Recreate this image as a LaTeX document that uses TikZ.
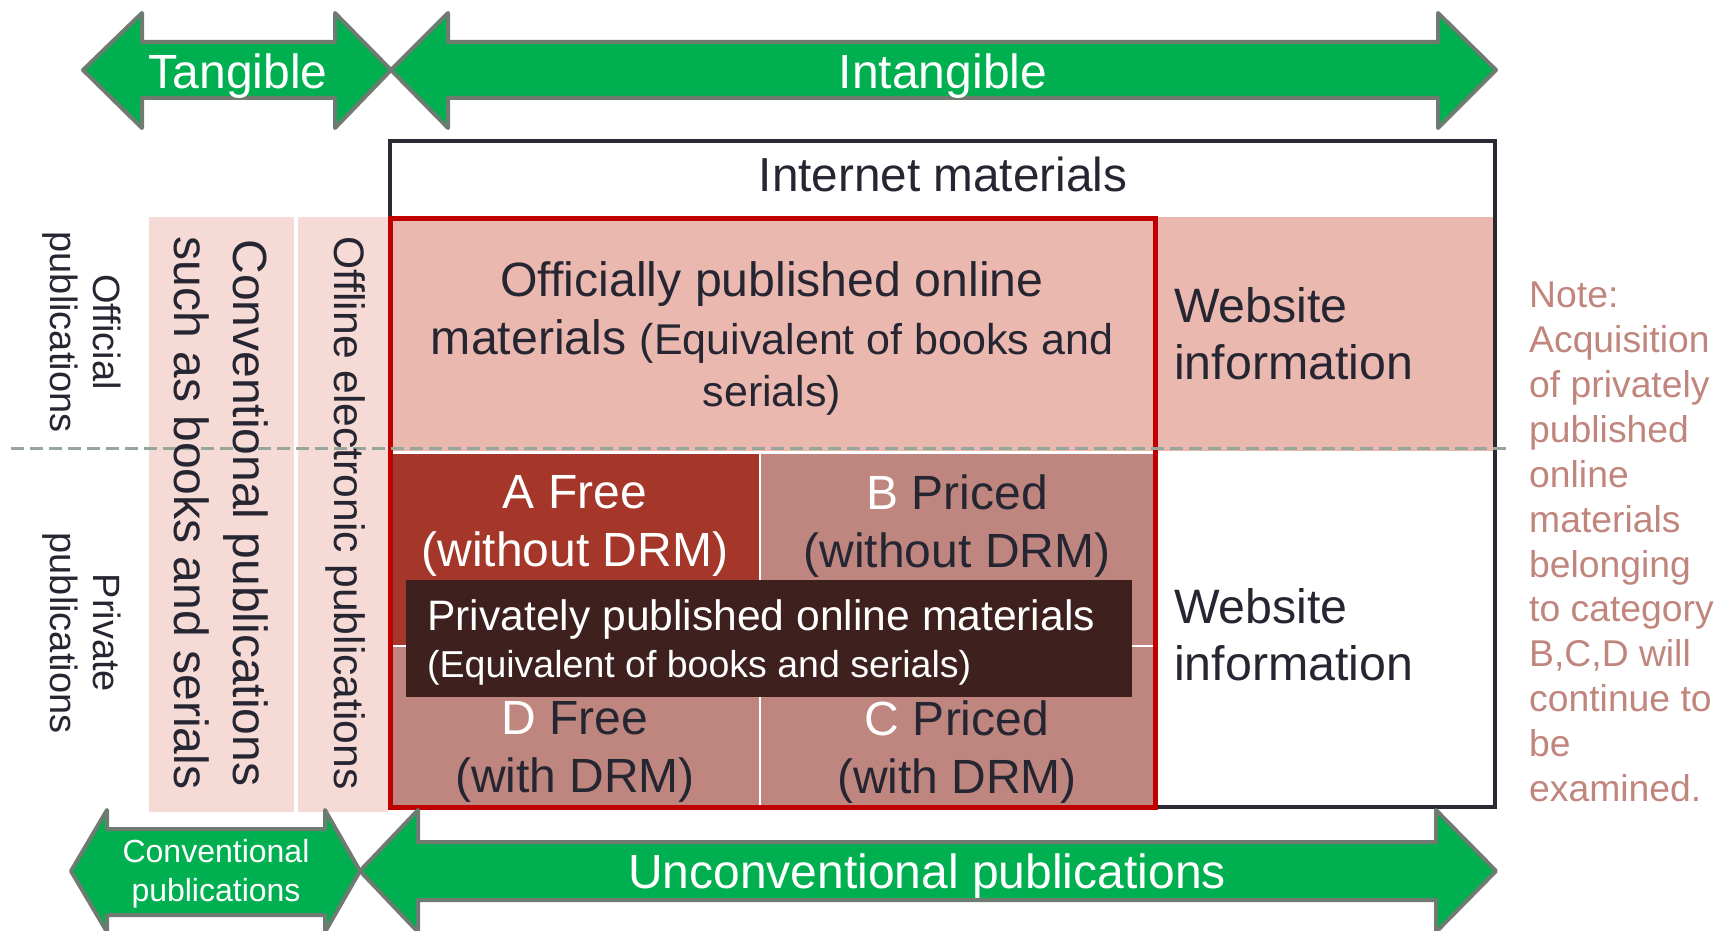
\documentclass[tikz,border=0pt]{standalone}
\usepackage{fontspec}
\setmainfont{Liberation Sans}
\definecolor{grn}{HTML}{00B050}
\definecolor{arrline}{HTML}{6E7B70}
\definecolor{pinkA}{HTML}{EBB8B0}
\definecolor{pinkL}{HTML}{F6DAD5}
\definecolor{cellA}{HTML}{A5372A}
\definecolor{cellB}{HTML}{BE867E}
\definecolor{redbox}{HTML}{C00000}
\definecolor{darkbox}{HTML}{3E211F}
\definecolor{txt}{HTML}{262633}
\definecolor{notec}{HTML}{C0867E}
\definecolor{dashc}{HTML}{97A69A}
\definecolor{boxline}{HTML}{2A2A35}
\newcommand{\myfs}[2]{\fontsize{#1}{#2}\selectfont}
\begin{document}
\begin{tikzpicture}[x=1pt,y=-1pt,
  arrowshape/.style={fill=grn, draw=arrline, line width=4pt, line join=round},
  lbl/.style={text=white, inner sep=0pt},
  dtxt/.style={text=txt, inner sep=0pt, align=center}]
\useasboundingbox (0,0) rectangle (1715,931);

% left strips
\fill[pinkL] (149,217) rectangle (294,812);
\fill[pinkL] (298,217) rectangle (388,812);

% internet materials box
\node[draw=boxline, line width=4.5pt, fill=white, minimum width=1105pt, minimum height=666pt, inner sep=0pt] (inet) at (942.5,474) {};
% official band
\fill[pinkA] (390,217) rectangle (1493,451);
% cells
\fill[cellA] (390,454) rectangle (759,645);
\fill[cellB] (761,454) rectangle (1155,645);
\fill[cellB] (390,647) rectangle (759,809);
\fill[cellB] (761,647) rectangle (1155,809);
% red box
\draw[redbox, line width=5pt] (390,218) rectangle (1155,807);
% dashed line
\draw[dashc, line width=3pt, dash pattern=on 13pt off 6pt] (11,448) -- (1509,448);
% overlay
\fill[darkbox] (406,580) rectangle (1132,697);

% top arrows
\draw[arrowshape] (83,70) -- (142,13) -- (142,42) -- (335,42) -- (335,13) -- (391,70) -- (335,128) -- (335,98) -- (142,98) -- (142,128) -- cycle;
\draw[arrowshape] (391,70) -- (448,13) -- (448,42) -- (1438,42) -- (1438,13) -- (1496,70) -- (1438,128) -- (1438,98) -- (448,98) -- (448,128) -- cycle;
% bottom arrows
\draw[arrowshape] (71,871) -- (107,810) -- (107,829) -- (325,829) -- (325,810) -- (360,871) -- (325,932) -- (325,915) -- (107,915) -- (107,932) -- cycle;
\draw[arrowshape] (360,871) -- (418,810) -- (418,842) -- (1436,842) -- (1436,810) -- (1496,871) -- (1436,932) -- (1436,900) -- (418,900) -- (418,932) -- cycle;

% arrow labels
\node[lbl, font=\myfs{48}{55}, anchor=base] (tang) at (238,89) {Tangible};
\node[lbl, font=\myfs{48}{55}, anchor=base] (intang) at (943,89) {Intangible};
\node[lbl, font=\myfs{32}{39}, align=center] (convarr) at (216,874) {Conventional\\publications};
\node[lbl, font=\myfs{48}{55}, anchor=base] (unconv) at (927,888) {Unconventional publications};

% texts
\node[dtxt, font=\myfs{47.7}{55}, anchor=base] (inettxt) at (943,191) {Internet materials};
\node[dtxt, font=\myfs{48.2}{58}] (offpub) at (772,338) {Officially published online\\materials {\myfs{43}{58}(Equivalent of books and}\\[-6pt]{\myfs{43}{52}serials)}};
\node[dtxt, text=white, font=\myfs{48}{58}] (cA) at (575,526) {A Free\\(without DRM)};
\node[dtxt, font=\myfs{48}{58}] (cB) at (957,526) {\textcolor{white}{B} Priced\\(without DRM)};
\node[dtxt, font=\myfs{48}{58}] (cD) at (575,752) {\textcolor{white}{D} Free\\(with DRM)};
\node[dtxt, font=\myfs{48}{58}] (cC) at (957,752) {\textcolor{white}{C} Priced\\(with DRM)};
\node[lbl, align=left, anchor=west, font=\myfs{42.6}{47}] (priv) at (427,642) {Privately published online materials\\{\myfs{37.5}{47}(Equivalent of books and serials)}};
\node[dtxt, align=left, anchor=west, font=\myfs{48.3}{57}] (web1) at (1174,334) {Website\\information};
\node[dtxt, align=left, anchor=west, font=\myfs{48.3}{57}] (web2) at (1174,635) {Website\\information};
\node[inner sep=0pt, text=notec, align=left, anchor=west, font=\myfs{37.3}{44.85}] (note) at (1529,542) {Note:\\Acquisition\\of privately\\published\\online\\materials\\belonging\\to category\\B,C,D will\\continue to\\be\\examined.};

% vertical texts
\node[dtxt, rotate=-90, font=\myfs{48}{59}] (convtxt) at (221,513) {Conventional publications\\such as books and serials};
\node[dtxt, rotate=-90, font=\myfs{42.6}{50}] (offline) at (346,513) {Offline electronic publications};
\node[dtxt, rotate=-90, font=\myfs{38}{43}] (official) at (82,332) {Official\\publications};
\node[dtxt, rotate=-90, font=\myfs{38}{43}] (private) at (82,633) {Private\\publications};
\end{tikzpicture}
\end{document}
